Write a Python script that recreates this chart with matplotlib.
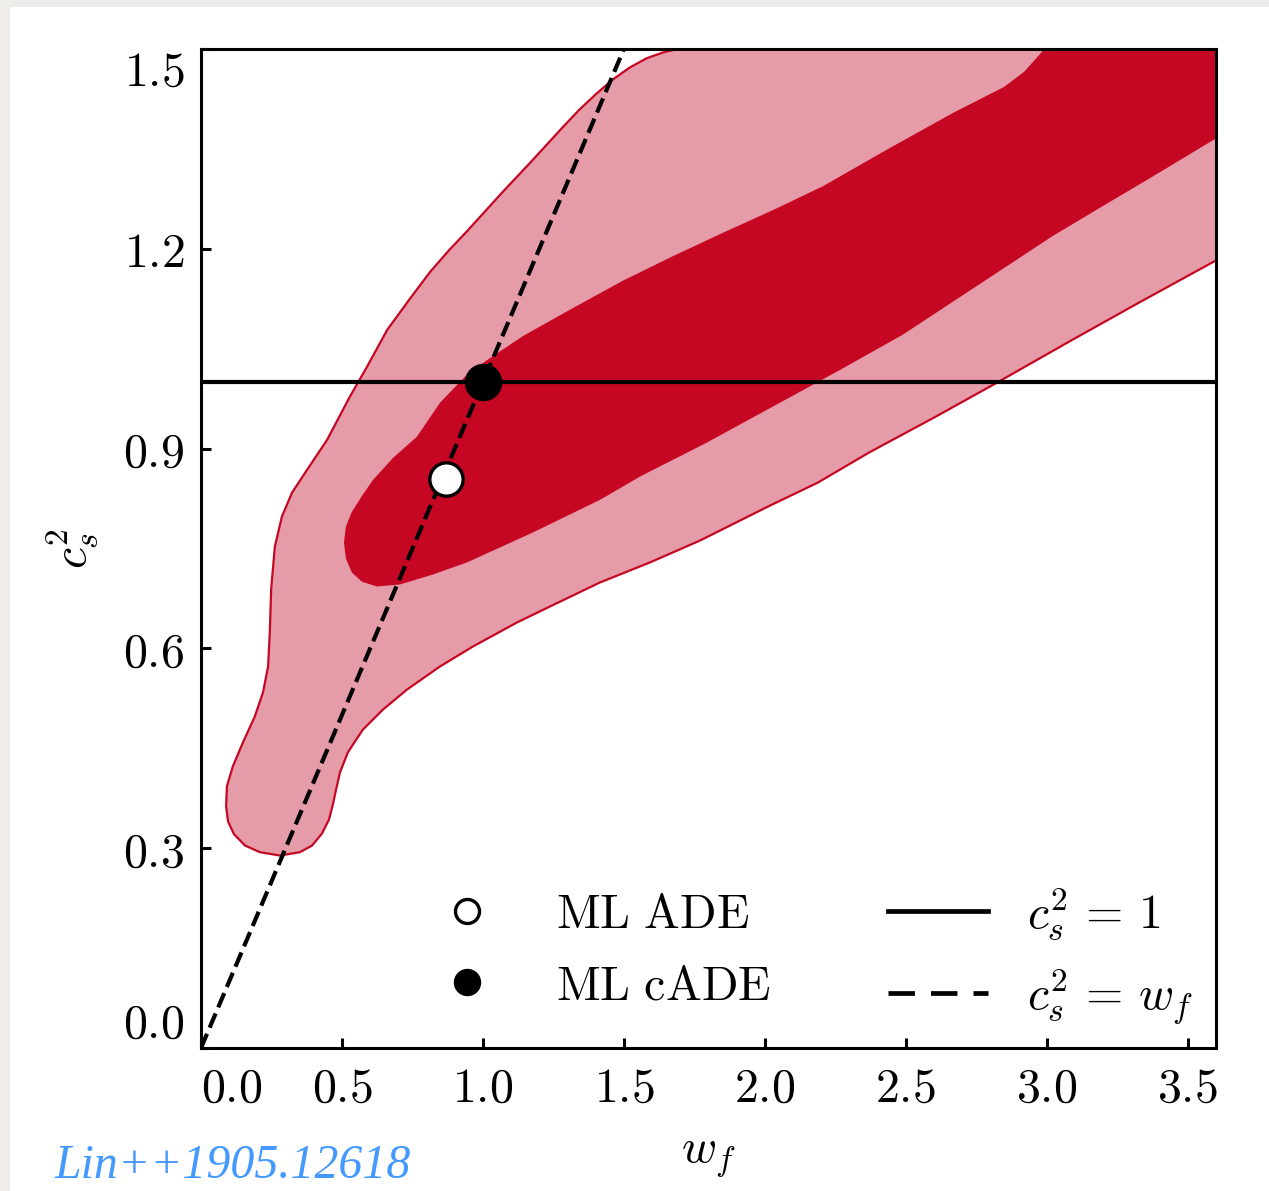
import matplotlib
matplotlib.use("Agg")
import matplotlib.pyplot as plt
from matplotlib.patches import Rectangle

plt.rcParams["mathtext.fontset"] = "cm"
plt.rcParams["font.family"] = "DejaVu Sans"

# 2-sigma contour (outer); points past the frame get clipped
outer_w = [0.280, 0.209, 0.156, 0.117, 0.096, 0.089, 0.092, 0.113, 0.149, 0.191,
           0.220, 0.238, 0.244, 0.249, 0.262, 0.287, 0.323, 0.376, 0.447, 0.528,
           0.589, 0.660, 0.741, 0.812, 0.880, 0.947, 1.067, 1.167, 1.284, 1.340,
           1.400, 1.460, 1.520, 1.580, 1.640, 1.700, 1.800, 2.500, 3.800, 3.800,
           3.589, 3.326, 3.089, 2.823, 2.606, 2.369, 2.188, 2.011, 1.770, 1.592,
           1.415, 1.238, 1.121, 0.965, 0.848, 0.730, 0.645, 0.574, 0.521, 0.493,
           0.479, 0.468, 0.454, 0.429, 0.394, 0.351]
outer_c = [0.289, 0.294, 0.304, 0.321, 0.340, 0.363, 0.393, 0.423, 0.459, 0.498,
           0.534, 0.573, 0.624, 0.690, 0.753, 0.798, 0.834, 0.868, 0.913, 0.978,
           1.023, 1.078, 1.125, 1.165, 1.198, 1.228, 1.284, 1.329, 1.383, 1.408,
           1.432, 1.454, 1.472, 1.486, 1.495, 1.501, 1.510, 1.560, 1.560, 1.229,
           1.180, 1.119, 1.063, 0.999, 0.948, 0.894, 0.849, 0.813, 0.762, 0.729,
           0.699, 0.663, 0.639, 0.603, 0.573, 0.538, 0.508, 0.478, 0.444, 0.414,
           0.388, 0.366, 0.343, 0.322, 0.304, 0.294]

# 1-sigma contour (inner)
inner_w = [0.507, 0.514, 0.535, 0.571, 0.610, 0.681, 0.766, 0.848, 0.943, 1.025,
           1.142, 1.319, 1.496, 1.674, 1.851, 2.028, 2.206, 2.429, 2.667, 2.848,
           2.920, 2.979, 2.996, 3.050, 3.800, 3.800,
           3.589, 3.401, 3.206, 3.020, 2.848, 2.489, 2.266, 2.028, 1.794, 1.557,
           1.415, 1.177, 0.943, 0.823, 0.706, 0.624, 0.571, 0.535, 0.514]
inner_c = [0.759, 0.783, 0.805, 0.829, 0.853, 0.886, 0.918, 0.969, 1.011, 1.036,
           1.069, 1.111, 1.152, 1.189, 1.224, 1.258, 1.294, 1.348, 1.404, 1.443,
           1.466, 1.494, 1.503, 1.560, 1.560, 1.416,
           1.363, 1.315, 1.266, 1.219, 1.171, 1.071, 1.018, 0.963, 0.909, 0.858,
           0.823, 0.774, 0.729, 0.711, 0.696, 0.693, 0.700, 0.714, 0.735]

# best fits
ml_ade = (0.87, 0.855)
ml_cade = (1.0, 1.0)

# reference lines
wf_line = [0.0, 1.5]
cs2_const = 1.0

xticks = [0.0, 0.5, 1.0, 1.5, 2.0, 2.5, 3.0, 3.5]
yticks = [0.0, 0.3, 0.6, 0.9, 1.2, 1.5]

dark_red = "#c50723"
pink = "#e69ca8"
fs = 34.5

fig = plt.figure(figsize=(12.69, 11.91), dpi=100)
fig.patch.set_facecolor("#eeede9")
fig.add_artist(Rectangle((10 / 1269, 0), 1, 1 - 7 / 1191, transform=fig.transFigure,
                         facecolor="white", edgecolor="none", zorder=-10))

ax = fig.add_axes([201 / 1269, 1 - 1048 / 1191, 1015 / 1269, 999 / 1191])
ax.set_facecolor("white")

ax.fill(outer_w, outer_c, facecolor=pink, edgecolor=dark_red, lw=1.6,
        joinstyle="round", zorder=1)
ax.fill(inner_w, inner_c, facecolor=dark_red, edgecolor="none", zorder=2)

ax.axhline(cs2_const, color="black", lw=3.0, zorder=3, label=r"$c_s^2\,=\,1$")
ax.plot(wf_line, wf_line, color="black", ls="--", lw=3.0, zorder=3,
        label=r"$c_s^2\,=\,w_f$")

ax.plot(*ml_ade, "o", ms=24, mfc="white", mec="black", mew=2.4, zorder=5, ls="none",
        label=r"$\mathrm{ML\ ADE}$")
ax.plot(*ml_cade, "o", ms=26, mfc="black", mec="black", mew=1, zorder=5, ls="none",
        label=r"$\mathrm{ML\ cADE}$")

ax.set_xlim(0, 3.6)
ax.set_ylim(0, 1.5)
ax.set_xticks(xticks)
ax.set_yticks(yticks)
ax.set_xticklabels([f"${t:.1f}$" for t in xticks], fontsize=fs)
ax.set_yticklabels([f"${t:.1f}$" for t in yticks], fontsize=fs)
ax.get_xticklabels()[0].set_horizontalalignment("left")
ax.get_yticklabels()[0].set_verticalalignment("bottom")
ax.get_yticklabels()[-1].set_verticalalignment("top")
ax.tick_params(direction="in", length=7, width=2.2, pad=12)
for sp in ax.spines.values():
    sp.set_linewidth(2.2)

ax.set_xlabel(r"$w_f$", fontsize=fs)
ax.set_ylabel(r"$c_s^2$", fontsize=fs)
ax.xaxis.set_label_coords(0.5, -0.085)
ax.yaxis.set_label_coords(-0.10, 0.5)

h, l = ax.get_legend_handles_labels()
order = [2, 3, 0, 1]
leg = ax.legend([h[i] for i in order], [l[i] for i in order], ncol=2, frameon=False,
                fontsize=fs, loc="center left", bbox_to_anchor=(0.1794, 0.092),
                markerscale=0.72, handlelength=2.1, handletextpad=0.8,
                columnspacing=2.45, labelspacing=0.5, borderpad=0.2)
# longer dashes in the legend key, as in the original
leg.get_lines()[3].set_dashes((5.6, 3.4))
leg.get_lines()[3].set_linewidth(3.4)
leg.get_lines()[2].set_linewidth(3.4)

fig.text(55 / 1269, 1 - 1178 / 1191, "Lin++1905.12618", color="#4499ff",
         fontsize=34.5, style="italic", family="Liberation Serif", va="baseline")

fig.savefig("out.png", dpi=100, facecolor=fig.get_facecolor())
